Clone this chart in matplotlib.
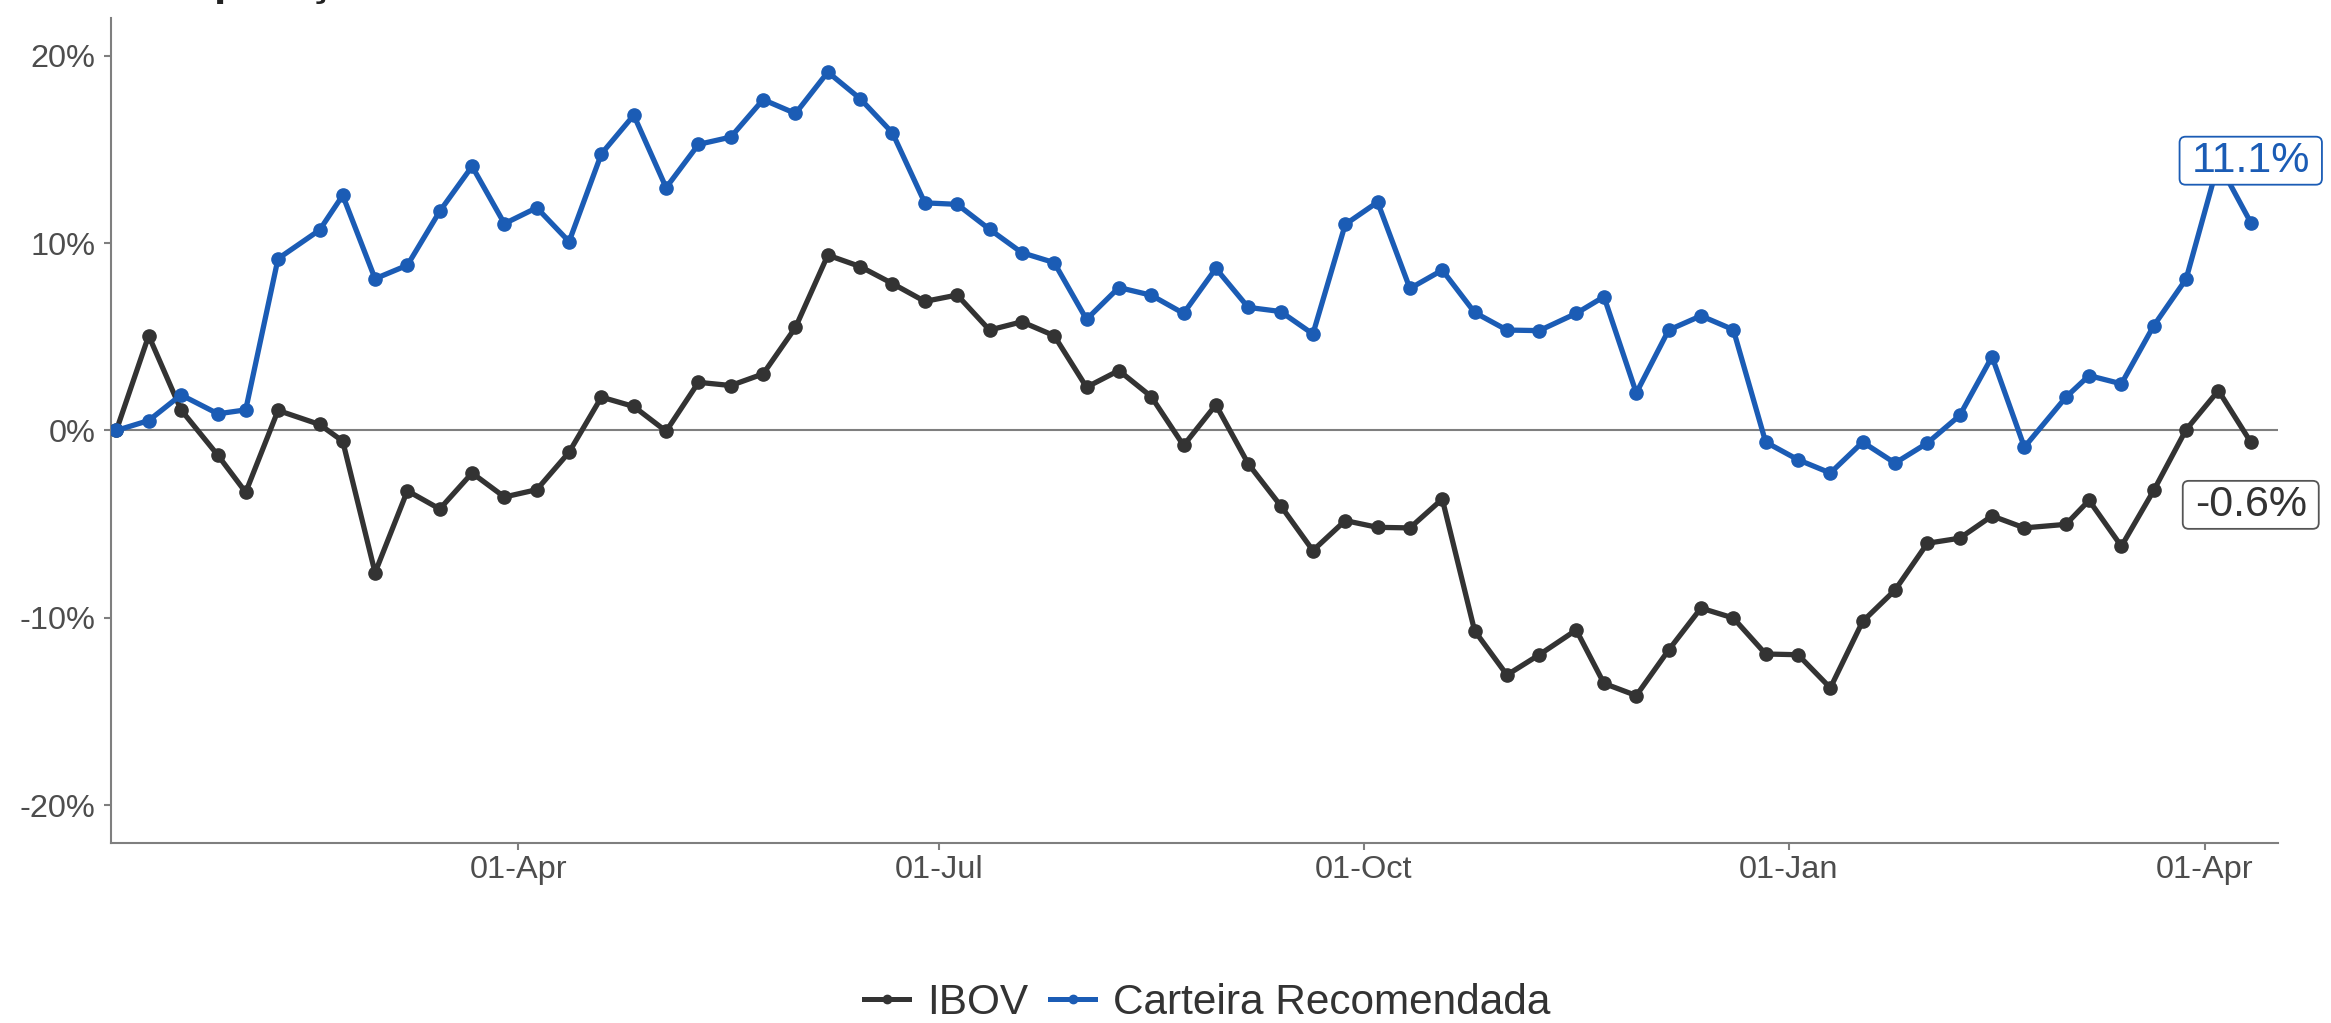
import numpy as np
import pandas as pd
import matplotlib
matplotlib.use("Agg")
import matplotlib.pyplot as plt
from matplotlib.patches import FancyBboxPatch
from matplotlib.transforms import IdentityTransform
from matplotlib.lines import Line2D

plt.rcParams['font.family'] = ['Liberation Sans', 'DejaVu Sans']

# Weekly dates (first trading day of the week)
dates = ['2021-01-04', '2021-01-11', '2021-01-18', '2021-01-26', '2021-02-01', '2021-02-08',
         '2021-02-17', '2021-02-22', '2021-03-01', '2021-03-08', '2021-03-15', '2021-03-22',
         '2021-03-29', '2021-04-05', '2021-04-12', '2021-04-19', '2021-04-26', '2021-05-03',
         '2021-05-10', '2021-05-17', '2021-05-24', '2021-05-31', '2021-06-07', '2021-06-14',
         '2021-06-21', '2021-06-28', '2021-07-05', '2021-07-12', '2021-07-19', '2021-07-26',
         '2021-08-02', '2021-08-09', '2021-08-16', '2021-08-23', '2021-08-30', '2021-09-06',
         '2021-09-13', '2021-09-20', '2021-09-27', '2021-10-04', '2021-10-11', '2021-10-18',
         '2021-10-25', '2021-11-01', '2021-11-08', '2021-11-16', '2021-11-22', '2021-11-29',
         '2021-12-06', '2021-12-13', '2021-12-20', '2021-12-27', '2022-01-03', '2022-01-10',
         '2022-01-17', '2022-01-24', '2022-01-31', '2022-02-07', '2022-02-14', '2022-02-21',
         '2022-03-02', '2022-03-07', '2022-03-14', '2022-03-21', '2022-03-28', '2022-04-04',
         '2022-04-11']

# Accumulated return (%)
ibov = [0.0, 5.06, 1.1, -1.33, -3.3, 1.07, 0.32, -0.57, -7.59, -3.22, -4.19, -2.27,
        -3.55, -3.16, -1.16, 1.78, 1.28, -0.04, 2.57, 2.40, 3.02, 5.5, 9.36, 8.75,
        7.84, 6.89, 7.23, 5.36, 5.80, 5.06, 2.31, 3.2, 1.81, -0.8, 1.37, -1.78,
        -4.01, -6.41, -4.81, -5.17, -5.2, -3.66, -10.69, -13.05, -11.97, -10.65, -13.5, -14.15,
        -11.72, -9.48, -10.01, -11.93, -11.97, -13.74, -10.19, -8.52, -6.02, -5.75, -4.56, -5.2,
        -5.01, -3.73, -6.18, -3.2, 0.04, 2.13, -0.62]

carteira = [0.0, 0.53, 1.9, 0.89, 1.1, 9.17, 10.7, 12.55, 8.1, 8.82, 11.7, 14.1,
            11.04, 11.89, 10.08, 14.77, 16.83, 12.96, 15.27, 15.66, 17.66, 16.92, 19.13, 17.71,
            15.88, 12.15, 12.07, 10.74, 9.49, 8.96, 5.93, 7.63, 7.22, 6.25, 8.65, 6.57,
            6.35, 5.15, 11.0, 12.19, 7.58, 8.56, 6.3, 5.36, 5.33, 6.25, 7.14, 2.0,
            5.36, 6.12, 5.38, -0.62, -1.56, -2.27, -0.62, -1.74, -0.67, 0.8, 3.94, -0.89,
            1.78, 2.93, 2.49, 5.59, 8.08, 14.3, 11.1]

series_names = ['IBOV', 'Carteira Recomendada']
series_colors = ['#333333', '#1b5cb5']

tick_dates = ['2021-04-01', '2021-07-01', '2021-10-01', '2022-01-01', '2022-04-01']
tick_labels = ['01-Apr', '01-Jul', '01-Oct', '01-Jan', '01-Apr']
y_ticks = [-20, -10, 0, 10, 20]
y_tick_labels = ['-20%', '-10%', '0%', '10%', '20%']

# End labels: text, y position (%), text colour, edge colour
end_labels = [('-0.6%', -3.97, '#333333', '#555555'),
              ('11.1%', 14.4, '#1b5cb5', '#1b5cb5')]


def add_end_label(fig, ax, x, y, text, color, edge):
    # geom_label-like box: tighter vertical padding than matplotlib's bbox
    t = ax.text(x, y, text, ha='center', va='center', fontsize=31, color=color, zorder=7)
    fig.canvas.draw()
    bb = t.get_window_extent()
    box = FancyBboxPatch((bb.x0 - 12, bb.y0 - 4), bb.width + 24, bb.height + 8,
                         boxstyle='round,pad=0,rounding_size=6', transform=IdentityTransform(),
                         facecolor='white', edgecolor=edge, linewidth=1.3, zorder=6, clip_on=False)
    ax.add_artist(box)


def main():
    x = pd.to_datetime(dates)

    fig = plt.figure(figsize=(23.31, 10.23), dpi=100)
    ax = fig.add_axes([0.0476, 0.1763, 0.9297, 0.8058])

    ax.axhline(0, color='#7f7f7f', linewidth=1.5, zorder=1)

    for values, name, color in zip([ibov, carteira], series_names, series_colors):
        ax.plot(x, values, color=color, linewidth=3.8, marker='o', markersize=9.5,
                label=name, zorder=3, solid_joinstyle='round')

    ax.set_xlim(pd.Timestamp('2021-01-02 20:00'), pd.Timestamp('2022-04-16 22:00'))
    ax.set_ylim(-22, 22)

    ax.set_xticks(pd.to_datetime(tick_dates))
    ax.set_xticklabels(tick_labels)
    ax.set_yticks(y_ticks)
    ax.set_yticklabels(y_tick_labels)

    for side in ['top', 'right']:
        ax.spines[side].set_visible(False)
    for side in ['left', 'bottom']:
        ax.spines[side].set_color('#7f7f7f')
        ax.spines[side].set_linewidth(1.5)
    ax.tick_params(axis='both', colors='#7f7f7f', length=4.7, width=1.5,
                   labelsize=23.4, labelcolor='#4d4d4d')
    ax.tick_params(axis='y', pad=6.4)
    ax.tick_params(axis='x', pad=4.5)

    for text, y, color, edge in end_labels:
        add_end_label(fig, ax, x[-1], y, text, color, edge)

    # Title, mostly cut off at the top edge of the picture
    fig.text(0.0493, 1.0045, 'Comparação', fontsize=32, fontweight='bold',
             color='#222222', ha='left', va='baseline')

    handles = [Line2D([], [], color=c, linewidth=3.6, marker='o', markersize=6) for c in series_colors]
    fig.legend(handles, series_names, loc='center', bbox_to_anchor=(0.518, 0.0195), ncol=2,
               frameon=False, fontsize=30.5, handlelength=1.06, handletextpad=0.42,
               columnspacing=0.52, labelcolor='#333333')

    fig.savefig('out.png', dpi=100)
    plt.close(fig)


if __name__ == "__main__":
    main()
